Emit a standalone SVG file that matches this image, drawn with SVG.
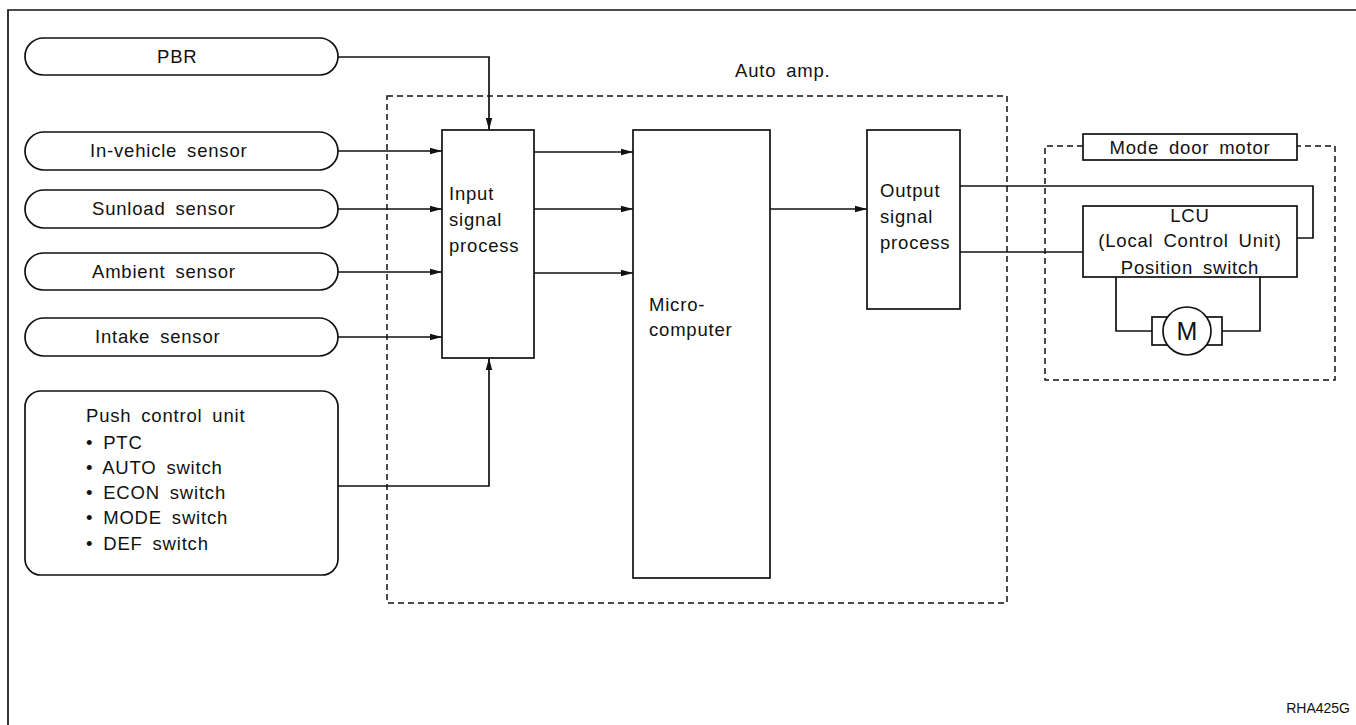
<svg xmlns="http://www.w3.org/2000/svg" width="1356" height="725" viewBox="0 0 1356 725">
<style>
text{font-family:"Liberation Sans",Arial,sans-serif;font-size:18.5px;fill:#111;letter-spacing:0.8px;word-spacing:4px}
.box{fill:#fff;stroke:#111;stroke-width:1.7}
.dash{fill:none;stroke:#111;stroke-width:1.5;stroke-dasharray:6 4}
.ln{fill:none;stroke:#111;stroke-width:1.7}
</style>
<defs>
<marker id="ar" viewBox="0 0 12 8" refX="12" refY="4" markerWidth="12" markerHeight="8" markerUnits="userSpaceOnUse" orient="auto">
<path d="M0,0.8 L12,4 L0,7.2 Z" fill="#111"/>
</marker>
</defs>
<rect width="1356" height="725" fill="#fff"/>
<g id="frame"><path class="ln" d="M8,725 V10 H1356" stroke-width="2"/></g>
<g id="autoamp"><rect class="dash" x="387" y="96" width="620" height="507"/><text x="735" y="77">Auto amp.</text></g>
<g id="pbr"><rect class="box" x="25" y="38" width="313" height="37" rx="18.5"/><text x="157" y="63">PBR</text></g>
<g id="invehicle"><rect class="box" x="25" y="132" width="313" height="38" rx="19"/><text x="90" y="157">In-vehicle sensor</text></g>
<g id="sunload"><rect class="box" x="25" y="190" width="313" height="38" rx="19"/><text x="92" y="215">Sunload sensor</text></g>
<g id="ambient"><rect class="box" x="25" y="253" width="313" height="37" rx="18.5"/><text x="92" y="278">Ambient sensor</text></g>
<g id="intake"><rect class="box" x="25" y="318" width="313" height="38" rx="19"/><text x="95" y="343">Intake sensor</text></g>
<g id="push"><rect class="box" x="25" y="391" width="313" height="184" rx="16"/>
<text x="86" y="422">Push control unit</text>
<text x="86" y="449">• PTC</text>
<text x="86" y="474">• AUTO switch</text>
<text x="86" y="499">• ECON switch</text>
<text x="86" y="524">• MODE switch</text>
<text x="86" y="550">• DEF switch</text></g>
<g id="input"><rect class="box" x="442" y="130" width="92" height="228"/>
<text x="449" y="200">Input</text><text x="449" y="226">signal</text><text x="449" y="252">process</text></g>
<g id="micro"><rect class="box" x="633" y="130" width="137" height="448"/>
<text x="649" y="311">Micro-</text><text x="649" y="336">computer</text></g>
<g id="output"><rect class="box" x="867" y="130" width="93" height="179"/>
<text x="880" y="197">Output</text><text x="880" y="223">signal</text><text x="880" y="249">process</text></g>
<g id="modedoor">
<path class="dash" d="M1083,146 H1045 V380 H1335 V146 H1297"/>
<rect class="box" x="1083" y="134" width="214" height="26"/>
<text x="1190" y="154" text-anchor="middle">Mode door motor</text>
</g>
<g id="lcu"><rect class="box" x="1083" y="206" width="214" height="71"/>
<text x="1190" y="222" text-anchor="middle">LCU</text>
<text x="1190" y="247" text-anchor="middle">(Local Control Unit)</text>
<text x="1190" y="274" text-anchor="middle">Position switch</text></g>
<g id="motor">
<rect class="box" x="1152" y="317" width="70" height="28"/>
<circle cx="1187" cy="331" r="24" class="box"/>
<text x="1187" y="340" text-anchor="middle" style="font-size:25px;letter-spacing:0">M</text>
</g>
<g id="connectors">
<path class="ln" d="M338,57 H489 V130" marker-end="url(#ar)"/>
<path class="ln" d="M338,151 H442" marker-end="url(#ar)"/>
<path class="ln" d="M338,209 H442" marker-end="url(#ar)"/>
<path class="ln" d="M338,272 H442" marker-end="url(#ar)"/>
<path class="ln" d="M338,337 H442" marker-end="url(#ar)"/>
<path class="ln" d="M338,486 H489 V358" marker-end="url(#ar)"/>
<path class="ln" d="M534,152 H633" marker-end="url(#ar)"/>
<path class="ln" d="M534,209 H633" marker-end="url(#ar)"/>
<path class="ln" d="M534,273 H633" marker-end="url(#ar)"/>
<path class="ln" d="M770,209 H867" marker-end="url(#ar)"/>
<path class="ln" d="M960,186 H1313 V238 H1297"/>
<path class="ln" d="M960,252 H1083"/>
<path class="ln" d="M1116,277 V331 H1152"/>
<path class="ln" d="M1222,331 H1260 V277"/>
</g>
<text x="1350" y="713" text-anchor="end" style="font-size:14px;letter-spacing:0">RHA425G</text>
</svg>
